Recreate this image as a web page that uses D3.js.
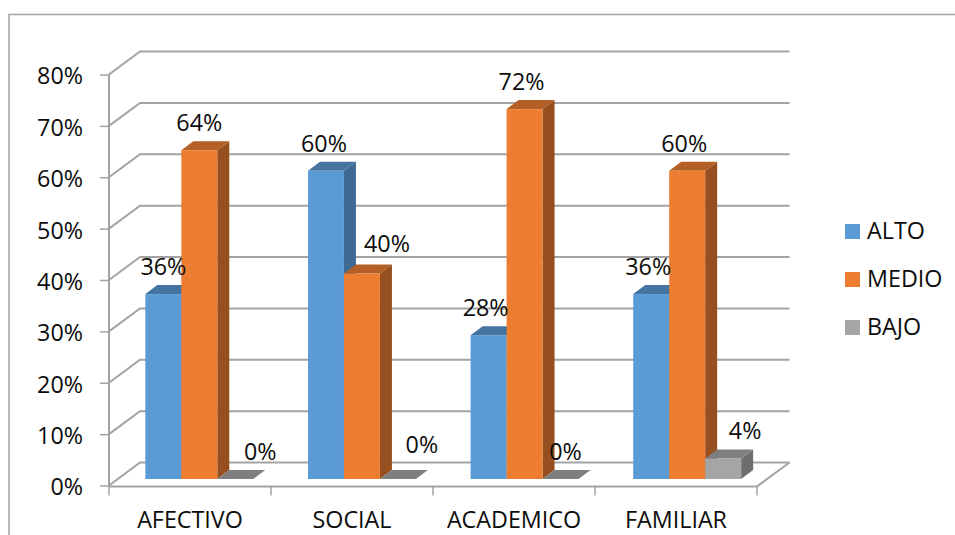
<!DOCTYPE html>
<html lang="es">
<head>
<meta charset="UTF-8">
<title>Chart</title>
<script src="https://d3js.org/d3.v7.min.js"></script>
<style>
    html, body { margin: 0; padding: 0; background: #fff; overflow: hidden; }
    svg { display: block; }
    text { font-family: "Open Sans", sans-serif; fill: #0d0d0d; }
    .axis text { font-size: 23.3px; }
    .axis path { display: none; }
    .axis line { stroke: #a3a3a3; stroke-width: 1.5; }
    .label { font-size: 23.3px; text-anchor: middle; }
</style>
</head>
<body>
<script>
'use strict'

const categories = ['AFECTIVO', 'SOCIAL', 'ACADEMICO', 'FAMILIAR']
const seriesNames = ['ALTO', 'MEDIO', 'BAJO']
const alto = [0.36, 0.60, 0.28, 0.36]
const medio = [0.64, 0.40, 0.72, 0.60]
const bajo = [0, 0, 0, 0.04]
const yTicks = [0, 0.1, 0.2, 0.3, 0.4, 0.5, 0.6, 0.7, 0.8]

const seriesValues = [alto, medio, bajo]

// front, top, side
const colors = [
    ['#5b9bd5', '#44749f', '#3e6b94'],
    ['#ed7d31', '#b35f25', '#964f1e'],
    ['#a5a5a5', '#7f7f7f', '#6e6e6e']
]

const w = 955, h = 535
const plotLeft = 109, plotRight = 757, plotBottom = 485.5, plotTop = 74.5
// depth of the 3d box, wall is this far from the front plane
const depthX = 31, depthY = 23
// where bars stand inside the depth, and how deep they are
const barShiftX = 9, barShiftY = 6.5, barDepthX = 12, barDepthY = 9

// hand placed labels in the original, offset from the default spot
const labelNudge = {
    '0,0': [0, 0], '0,1': [-2, 0], '0,2': [-3, 0], '0,3': [-3, 0],
    '1,0': [0, 0], '1,1': [25, -3], '1,2': [-3, 0], '1,3': [-3, 0],
    '2,0': [25, 0], '2,1': [24, -7], '2,2': [5, 0], '2,3': [22, 0]
}

const svg = d3.select('body').append('svg')
    .attr('width', w)
    .attr('height', h)

const x = d3.scaleBand().domain(categories).range([plotLeft, plotRight])
// bars drift a little wider than the axis ticks in the original
const xBars = d3.scaleBand().domain(categories).range([plotLeft, plotRight + 2.5])
const xInner = d3.scaleBand()
    .domain(seriesNames)
    .range([0, xBars.bandwidth()])
    .paddingOuter(0.76)
    .paddingInner(0)
const y = d3.scaleLinear().domain([0, 0.8]).range([plotBottom, plotTop])

//outer frame
svg.append('path')
    .attr('d', `M9,${h} V14.5 H${w}`)
    .attr('fill', 'none')
    .attr('stroke', '#a3a3a3')
    .attr('stroke-width', 1.5)

//gridlines, running along the wall and down the side wall
svg.append('g').selectAll('path')
    .data(yTicks)
    .enter()
    .append('path')
    .attr('d', d => `M${plotLeft},${y(d)} L${plotLeft + depthX},${y(d) - depthY} H${plotRight + depthX + 1.5}`)
    .attr('fill', 'none')
    .attr('stroke', '#a3a3a3')
    .attr('stroke-width', 2)

//floor edge
svg.append('path')
    .attr('d', `M${plotLeft},${plotBottom + 1} H${plotRight} L${plotRight + depthX + 1.5},${plotBottom - depthY}`)
    .attr('fill', 'none')
    .attr('stroke', '#a3a3a3')
    .attr('stroke-width', 2)

//left wall edge
svg.append('line')
    .attr('x1', plotLeft).attr('x2', plotLeft)
    .attr('y1', plotTop).attr('y2', plotBottom)
    .attr('stroke', '#a3a3a3')
    .attr('stroke-width', 2)

//bars
seriesValues.forEach((values, s) => {
    const g = svg.append('g')
    values.forEach((v, c) => {
        const x0 = xBars(categories[c]) + xInner(seriesNames[s]) + barShiftX
        const x1 = x0 + xInner.bandwidth()
        const y1 = y(0) - barShiftY
        const y0 = y(v) - barShiftY
        g.append('path') // side
            .attr('d', `M${x1},${y0} L${x1 + barDepthX},${y0 - barDepthY} V${y1 - barDepthY} L${x1},${y1} Z`)
            .attr('fill', colors[s][2])
        g.append('path') // top
            .attr('d', `M${x0},${y0} L${x0 + barDepthX},${y0 - barDepthY} H${x1 + barDepthX} L${x1},${y0} Z`)
            .attr('fill', colors[s][1])
        if (v > 0) {
            g.append('rect') // front
                .attr('x', x0)
                .attr('y', y0)
                .attr('width', xInner.bandwidth())
                .attr('height', y1 - y0)
                .attr('fill', colors[s][0])
        }
    })
})

//value labels
seriesValues.forEach((values, s) => {
    values.forEach((v, c) => {
        const nudge = labelNudge[s + ',' + c]
        svg.append('text')
            .attr('class', 'label')
            .attr('x', xBars(categories[c]) + xInner(seriesNames[s]) + barShiftX + xInner.bandwidth() / 2 + nudge[0])
            .attr('y', y(v) - barShiftY - 19 + nudge[1])
            .text(d3.format('.0%')(v))
    })
})

//axes
const yAxis = svg.append('g')
    .attr('class', 'axis')
    .attr('transform', `translate(${plotLeft},0)`)
    .call(d3.axisLeft(y).tickValues(yTicks).tickFormat(d3.format('.0%')).tickSize(9).tickPadding(17))

yAxis.selectAll('text').attr('y', 2)

const xAxis = svg.append('g')
    .attr('class', 'axis')
    .attr('transform', `translate(0,${plotBottom + 1})`)
    .call(d3.axisBottom(x).tickSize(0).tickPadding(25))

// ticks sit between the categories
xAxis.selectAll('.bound')
    .data(d3.range(categories.length + 1))
    .enter()
    .append('line')
    .attr('x1', i => plotLeft + i * x.step())
    .attr('x2', i => plotLeft + i * x.step())
    .attr('y1', 0)
    .attr('y2', 9)

//legend
const legend = svg.append('g')
    .selectAll('g')
    .data(seriesNames)
    .enter()
    .append('g')
    .attr('transform', (d, i) => `translate(845,${224 + i * 48})`)

legend.append('rect')
    .attr('width', 15)
    .attr('height', 15)
    .attr('fill', (d, i) => colors[i][0])

legend.append('text')
    .attr('x', 22)
    .attr('y', 15)
    .style('font-size', '23.3px')
    .text(d => d)
</script>
</body>
</html>
